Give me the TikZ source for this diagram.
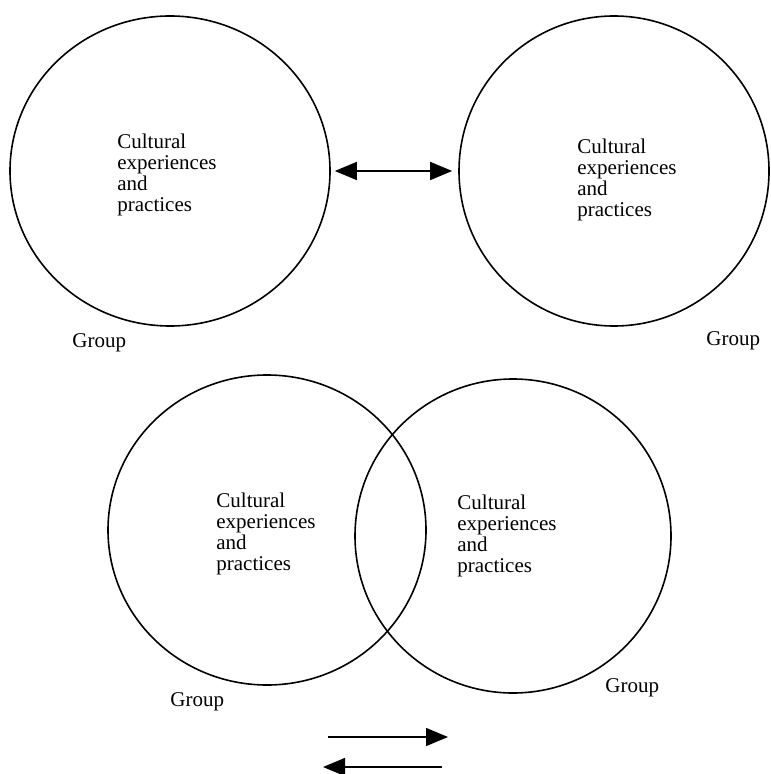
\documentclass[tikz,border=0pt]{standalone}
\usepackage{fontspec}
\setmainfont{Liberation Serif}
\usetikzlibrary{arrows.meta, positioning, shapes.geometric}

\begin{document}
\begin{tikzpicture}[
    x=0.5pt, y=-0.5pt,
    font=\fontsize{10.5}{10.5}\selectfont,
    group/.style={draw, ellipse, line width=0.8pt, inner sep=0pt},
    lbl/.style={inner sep=0pt, anchor=west, align=left},
    arr/.style={-{Triangle[length=11pt, width=9pt]}, line width=0.7pt},
    dblarr/.style={{Triangle[length=11pt, width=9pt]}-{Triangle[length=11pt, width=9pt]},
                   line width=0.7pt},
  ]
    \useasboundingbox (0,0) rectangle (770,774);

    % separate groups
    \node[group, minimum width=160pt, minimum height=155pt] (tl) at (170,171) {};
    \node[group, minimum width=155pt, minimum height=155pt] (tr) at (614,171) {};
    \node[lbl] (tltext) at (117,175) {Cultural\\experiences\\and\\practices};
    \node[lbl] (trtext) at (577,180) {Cultural\\experiences\\and\\practices};
    \node[lbl] (tlgroup) at (72,343) {Group};
    \node[lbl] (trgroup) at (706,341) {Group};
    \draw[dblarr, shorten <=2pt, shorten >=3pt] (tl) -- (tr);

    % overlapping groups
    \node[group, minimum width=159pt, minimum height=155pt] (bl) at (267,530) {};
    \node[group, minimum width=158pt, minimum height=157pt] (br) at (513,536) {};
    \node[lbl] (bltext) at (216,534) {Cultural\\experiences\\and\\practices};
    \node[lbl] (brtext) at (457,536) {Cultural\\experiences\\and\\practices};
    \node[lbl] (blgroup) at (170,702) {Group};
    \node[lbl] (brgroup) at (605,688) {Group};

    % exchange arrows
    \coordinate (outs) at (328,737);
    \coordinate (oute) at (448,737);
    \coordinate (backs) at (442,767);
    \coordinate (backe) at (323,767);
    \draw[arr] (outs) -- (oute);
    \draw[arr] (backs) -- (backe);
  \end{tikzpicture}
\end{document}
